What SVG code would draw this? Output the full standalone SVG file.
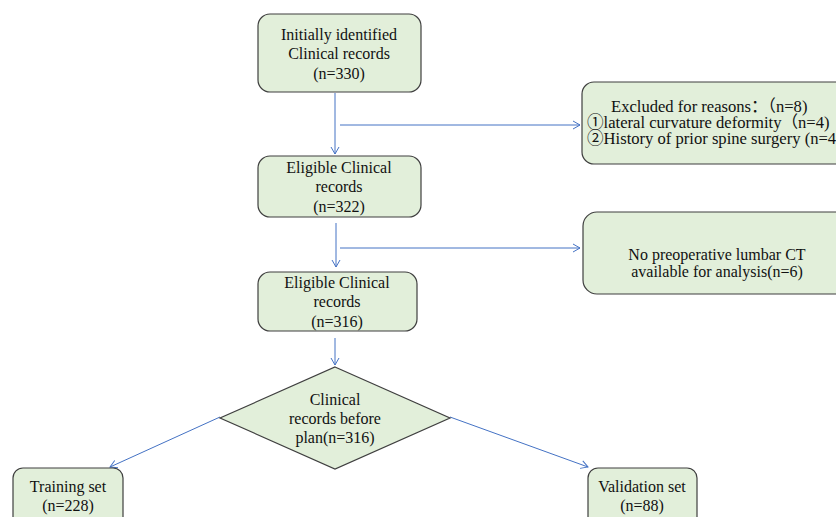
<svg xmlns="http://www.w3.org/2000/svg" width="836" height="517" viewBox="0 0 836 517">
<defs>
<marker id="arr" markerWidth="10" markerHeight="10" refX="8" refY="5" orient="auto" markerUnits="userSpaceOnUse">
<path d="M1,1 L8,5 L1,9" fill="none" stroke="#4472c4" stroke-width="1"/>
</marker>
<style>
.box{fill:#e2efda;stroke:#3f3f3f;stroke-width:1.2}
.t{font-family:"Liberation Serif","Noto Sans CJK SC",serif;font-size:16px;fill:#111}
.s{font-size:16.6px}
.c{text-anchor:middle}
.ln{stroke:#4472c4;stroke-width:1;fill:none}
</style>
</defs>
<rect width="836" height="517" fill="#ffffff"/>
<g id="connectors">
<line class="ln" x1="335" y1="93" x2="335" y2="154" marker-end="url(#arr)"/>
<line class="ln" x1="340" y1="125" x2="580" y2="125" marker-end="url(#arr)"/>
<line class="ln" x1="336" y1="223" x2="336" y2="267" marker-end="url(#arr)"/>
<line class="ln" x1="340" y1="248" x2="580" y2="248" marker-end="url(#arr)"/>
<line class="ln" x1="335" y1="338" x2="335" y2="365" marker-end="url(#arr)"/>
<line class="ln" x1="220" y1="417" x2="110" y2="467" marker-end="url(#arr)"/>
<line class="ln" x1="450" y1="417" x2="588" y2="467" marker-end="url(#arr)"/>
</g>
<g id="n1">
<rect class="box" x="258" y="14" width="163" height="78" rx="12"/>
<text class="t c" x="339" y="40">Initially identified</text>
<text class="t c" x="339" y="59">Clinical records</text>
<text class="t c" x="339" y="79">(n=330)</text>
</g>
<g id="ex1">
<rect class="box" x="582" y="82" width="270" height="82" rx="12"/>
<text class="t s" x="611" y="112">Excluded for reasons：（n=8)</text>
<text class="t s" x="587" y="128">①lateral curvature deformity（n=4)</text>
<text class="t s" x="587" y="144">②History of prior spine surgery (n=4)</text>
</g>
<g id="n2">
<rect class="box" x="258" y="156" width="163" height="61" rx="12"/>
<text class="t c" x="339" y="173">Eligible Clinical</text>
<text class="t c" x="339" y="192">records</text>
<text class="t c" x="339" y="212">(n=322)</text>
</g>
<g id="ex2">
<rect class="box" x="583" y="212" width="270" height="82" rx="14"/>
<text class="t c" x="717" y="260">No preoperative lumbar CT</text>
<text class="t c" x="717" y="277">available for analysis(n=6)</text>
</g>
<g id="n3">
<rect class="box" x="258" y="272" width="159" height="59" rx="12"/>
<text class="t c" x="337" y="288">Eligible Clinical</text>
<text class="t c" x="337" y="307">records</text>
<text class="t c" x="337" y="327">(n=316)</text>
</g>
<g id="d1">
<polygon class="box" points="335,367 450,418 335,469 220,418"/>
<text class="t c" x="335" y="405">Clinical</text>
<text class="t c" x="335" y="424">records before</text>
<text class="t c" x="335" y="443">plan(n=316)</text>
</g>
<g id="train">
<rect class="box" x="13" y="468" width="110" height="60" rx="10"/>
<text class="t c" x="68" y="492">Training set</text>
<text class="t c" x="68" y="511">(n=228)</text>
</g>
<g id="valid">
<rect class="box" x="588" y="468" width="109" height="60" rx="10"/>
<text class="t c" x="642" y="492">Validation set</text>
<text class="t c" x="642" y="511">(n=88)</text>
</g>
</svg>
